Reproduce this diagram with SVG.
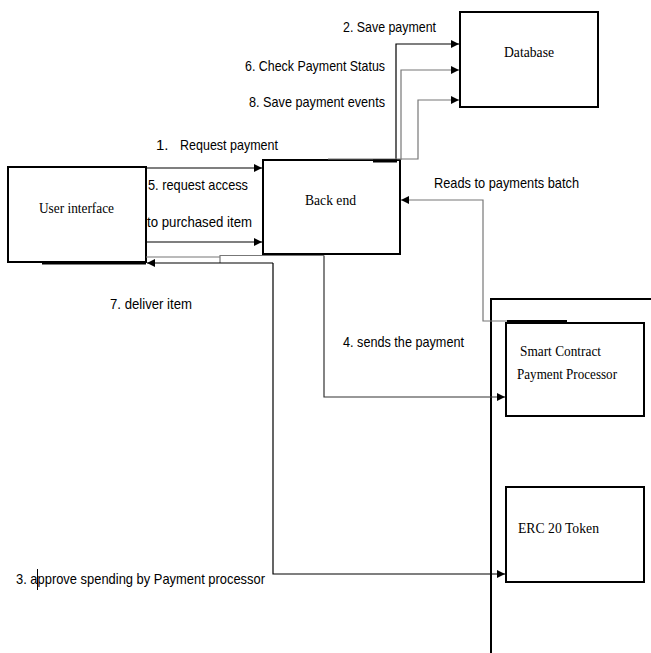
<svg xmlns="http://www.w3.org/2000/svg" width="651" height="653" viewBox="0 0 651 653">
<style>
.box{fill:#fff;stroke:#000;stroke-width:2}
.nt{font-family:"Liberation Serif","Times New Roman",serif;font-size:15px;fill:#000}
.lb{font-family:"Liberation Sans",Arial,sans-serif;font-size:15px;fill:#000}
.c{fill:none;stroke:#000;stroke-width:1.2}
.g{fill:none;stroke:#777;stroke-width:1.2}
.d{fill:none;stroke:#333;stroke-width:1.2}
.k{fill:none;stroke:#000;stroke-width:3}
</style>
<defs>
<marker id="ah" markerUnits="userSpaceOnUse" markerWidth="9" markerHeight="9" refX="8" refY="4" orient="auto">
<path d="M0,0 L8,4 L0,8 z" fill="#000"/>
</marker>
</defs>
<rect width="651" height="653" fill="#fff"/>

<g id="nodes">
<g id="database">
<rect class="box" x="460" y="12" width="138" height="95"/>
<text class="nt" x="504" y="57" textLength="50" lengthAdjust="spacingAndGlyphs">Database</text>
</g>
<g id="user-interface">
<rect class="box" x="8" y="167" width="138" height="95"/>
<text class="nt" x="39" y="213" textLength="75" lengthAdjust="spacingAndGlyphs">User interface</text>
</g>
<g id="back-end">
<rect class="box" x="263" y="160" width="137" height="94"/>
<text class="nt" x="305" y="205" textLength="51" lengthAdjust="spacingAndGlyphs">Back end</text>
</g>
<g id="blockchain">
<path d="M491 653 V299 H651" fill="none" stroke="#000" stroke-width="2"/>
</g>
<g id="smart-contract">
<rect class="box" x="506" y="323" width="138" height="93"/>
<text class="nt" x="520" y="356" textLength="81" lengthAdjust="spacingAndGlyphs">Smart Contract</text>
<text class="nt" x="517" y="379" textLength="100" lengthAdjust="spacingAndGlyphs">Payment Processor</text>
</g>
<g id="erc20">
<rect class="box" x="506" y="487" width="138" height="95"/>
<text class="nt" x="518" y="533" textLength="81" lengthAdjust="spacingAndGlyphs">ERC 20 Token</text>
</g>
</g>

<g id="connectors">
<path class="c" d="M396 160 V44 H459" marker-end="url(#ah)"/>
<path class="g" d="M401 160 V70 H459" marker-end="url(#ah)"/>
<path class="g" d="M328 159 H418 V100 H459" marker-end="url(#ah)"/>
<line class="k" x1="373" y1="161" x2="397" y2="161"/>
<path class="c" d="M146 168 H262" marker-end="url(#ah)"/>
<path class="c" d="M146 242 H262" marker-end="url(#ah)"/>
<path class="g" d="M567 321 H483 V200 H401" marker-end="url(#ah)"/>
<line class="k" x1="507" y1="321.5" x2="567" y2="321.5" stroke-width="2"/>
<path class="g" d="M146 257 H220"/>
<path class="g" d="M220 263 V255.5 H324"/>
<path class="d" d="M324 255.5 V397 H505" marker-end="url(#ah)"/>
<path class="c" d="M273 263 H147" stroke-width="2" marker-end="url(#ah)"/>
<line class="k" x1="42" y1="263" x2="146" y2="263"/>
<path class="c" d="M273 263 V574 H505" marker-end="url(#ah)"/>
</g>

<g id="labels">
<text class="lb" x="343" y="32" textLength="93" lengthAdjust="spacingAndGlyphs">2. Save payment</text>
<text class="lb" x="245" y="71" textLength="140" lengthAdjust="spacingAndGlyphs">6. Check Payment Status</text>
<text class="lb" x="249" y="107" textLength="136" lengthAdjust="spacingAndGlyphs">8. Save payment events</text>
<text class="lb" x="156" y="150">1.</text>
<text class="lb" x="180" y="150" textLength="98" lengthAdjust="spacingAndGlyphs">Request payment</text>
<text class="lb" x="148" y="190" textLength="100" lengthAdjust="spacingAndGlyphs">5. request access</text>
<text class="lb" x="147" y="227" textLength="105" lengthAdjust="spacingAndGlyphs">to purchased item</text>
<text class="lb" x="110" y="309" textLength="82" lengthAdjust="spacingAndGlyphs">7. deliver item</text>
<text class="lb" x="343" y="347" textLength="121" lengthAdjust="spacingAndGlyphs">4. sends the payment</text>
<text class="lb" x="434" y="188" textLength="145" lengthAdjust="spacingAndGlyphs">Reads to payments batch</text>
<text class="lb" x="16" y="584" textLength="249" lengthAdjust="spacingAndGlyphs">3. approve spending by Payment processor</text>
<line x1="37.5" y1="569" x2="37.5" y2="590" stroke="#000" stroke-width="1"/>
</g>
</svg>
